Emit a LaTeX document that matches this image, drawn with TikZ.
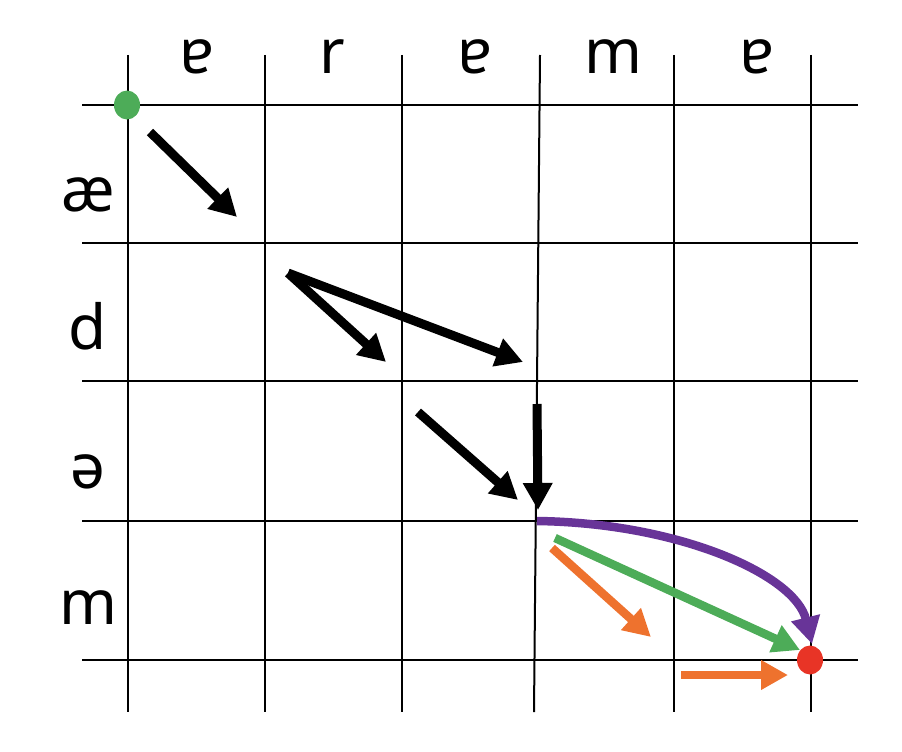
\documentclass[tikz,border=0pt]{standalone}
\usepackage{fontspec}
\setmainfont{Noto Sans}
\usetikzlibrary{arrows.meta}
\definecolor{dotgreen}{RGB}{77,172,88}
\definecolor{argreen}{RGB}{77,172,88}
\definecolor{arpurple}{RGB}{104,52,152}
\definecolor{arorange}{RGB}{238,114,46}
\definecolor{dotred}{RGB}{232,52,38}
\tikzset{
  grid/.style={line width=2pt, black},
  lbl/.style={font=\fontsize{62}{62}\selectfont, anchor=base, inner sep=0pt},
  blk/.style={line width=9pt, black, -{Triangle[length=27pt,width=28pt]}},
  col/.style={line width=8.5pt, -{Triangle[length=27pt,width=28pt]}},
  dot/.style={ellipse, minimum width=26pt, minimum height=29pt, inner sep=0pt},
}
\usetikzlibrary{shapes.geometric}
\begin{document}
\begin{tikzpicture}[x=1pt,y=-1pt]
\useasboundingbox (0,0) rectangle (902,752);
% grid
\draw[grid] (128,55) -- (128,712);
\draw[grid] (265,55) -- (265,712);
\draw[grid] (402,55) -- (402,712);
\draw[grid] (540,55) -- (534,712);
\draw[grid] (674,55) -- (674,712);
\draw[grid] (811,55) -- (811,712);
\foreach \y in {105,243,381,521,660} \draw[grid] (82,\y) -- (858,\y);
% headers
\node[lbl] (h1) at (197,74) {ɐ};
\node[lbl] (h2) at (332,74) {r};
\node[lbl] (h3) at (475,74) {ɐ};
\node[lbl] (h4) at (613,74) {m};
\node[lbl] (h5) at (757,74) {ɐ};
% row labels
\node[lbl] (r1) at (88,211) {æ};
\node[lbl] (r2) at (88,349) {d};
\node[lbl] (r3) at (88,488) {ə};
\node[lbl] (r4) at (88,624) {m};
% dots
\node[dot, fill=dotgreen] (start) at (127,105) {};
\node[dot, fill=dotred] (end) at (810,660) {};
% black arrows
\coordinate (a1s) at (150,132); \coordinate (a1e) at (237,217);
\coordinate (a2s) at (288,273); \coordinate (a2e) at (386,362); \coordinate (a3e) at (523,362);
\coordinate (a4s) at (418,412); \coordinate (a4e) at (518,500);
\coordinate (a5s) at (537,404); \coordinate (a5e) at (538,510);
\draw[blk] (a1s) -- (a1e);
\draw[blk] (a2s) -- (a2e);
\draw[blk] (a2s) -- (a3e);
\draw[blk] (a4s) -- (a4e);
\draw[blk] (a5s) -- (a5e);
% coloured arrows
\coordinate (ps) at (537,521); \coordinate (pe) at (812,644);
\coordinate (gs) at (555,538); \coordinate (ge) at (800,650);
\coordinate (o1s) at (552,548); \coordinate (o1e) at (651,637);
\coordinate (o2s) at (681,675); \coordinate (o2e) at (788,675);
\draw[col, arorange] (o1s) -- (o1e);
\draw[col, arorange] (o2s) -- (o2e);
\draw[col, argreen] (gs) -- (ge);
\draw[col, arpurple] (ps) .. controls (680,523) and (795,575) .. (pe);
\end{tikzpicture}
\end{document}
